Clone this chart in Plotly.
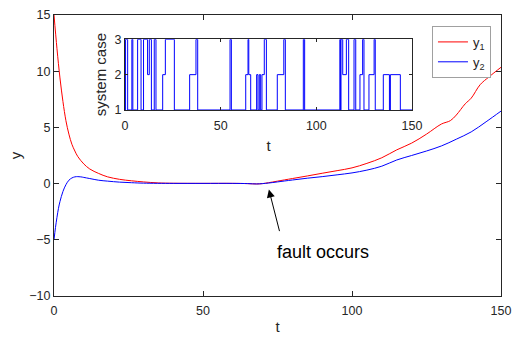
import plotly.graph_objects as go

# main response data
t1 = [0, 1, 2, 3, 4, 5, 6, 7, 8, 10, 12, 15, 18, 22, 26, 30, 35, 40, 50, 60, 65, 68, 70, 72, 75,
      80, 85, 90, 95, 100, 105, 110, 115, 120, 125, 130, 133, 135, 138, 140, 143, 146, 150]
y1 = [15, 12.0, 9.4, 7.3, 5.6, 4.4, 3.5, 2.9, 2.4, 1.75, 1.3, 0.9, 0.6, 0.38, 0.25, 0.15, 0.06, 0.03,
      0.02, 0.02, 0.0, -0.03, 0.0, 0.08, 0.22, 0.45, 0.68, 0.92, 1.15, 1.4, 1.8, 2.3, 3.0, 3.6, 4.4,
      5.3, 5.6, 6.1, 7.1, 7.6, 8.8, 9.5, 10.35]
t2 = [0, 0.5, 1, 1.5, 2, 3, 4, 5, 6, 7, 8, 9, 10, 12, 15, 18, 22, 26, 30, 40, 50, 60, 65, 68, 70,
      72, 75, 80, 85, 90, 95, 100, 105, 110, 115, 120, 125, 130, 135, 140, 145, 150]
y2 = [-5, -3.9, -3.0, -2.2, -1.6, -0.7, -0.1, 0.3, 0.5, 0.6, 0.62, 0.6, 0.55, 0.45, 0.3, 0.22, 0.13,
      0.08, 0.04, 0.02, 0.02, 0.02, 0.0, -0.03, 0.0, 0.05, 0.15, 0.32, 0.48, 0.62, 0.78, 0.95, 1.2,
      1.55, 2.1, 2.5, 2.9, 3.35, 3.95, 4.6, 5.5, 6.45]

# switching signal (system case)
sw_t = [0, 0.3, 1.4, 3.6, 4.1, 6.6, 8.4, 9.7, 11.8, 12.7, 13.8, 15.3, 16.2, 19.7, 21.1, 25.8, 33.8,
        37.1, 38.0, 54.9, 55.6, 63.1, 64.3, 64.7, 65.7, 68.8, 69.5, 70.2, 70.9, 71.6, 72.8, 73.9,
        79.6, 83.0, 83.8, 93.2, 93.9, 112.3, 112.6, 112.9, 113.8, 115.7, 116.9, 119.7, 120.6, 122.8,
        124.2, 124.9, 127.5, 130.2, 130.8, 135.0, 138.2, 138.7, 143.9, 150]
sw_v = [1, 3, 1, 3, 1, 3, 1, 3, 2, 3, 1, 3, 1, 2, 3, 1, 2,
        3, 1, 3, 1, 2, 3, 2, 1, 2, 1, 2, 1, 2, 3, 1,
        2, 3, 1, 3, 1, 3, 1, 3, 2, 3, 1, 3, 1, 2,
        3, 1, 2, 3, 1, 2, 1, 2, 1, 1]

main_xticks = [0, 50, 100, 150]
main_yticks = [-10, -5, 0, 5, 10, 15]
inset_yticks = [1, 2, 3]

axcol = '#262626'
font = 'Liberation Sans, Arial, sans-serif'

fig = go.Figure()
fig.add_trace(go.Scatter(x=t1, y=y1, mode='lines', name='y<sub>1</sub>',
                         line=dict(color='#ff0000', width=1), line_shape='spline'))
fig.add_trace(go.Scatter(x=t2, y=y2, mode='lines', name='y<sub>2</sub>',
                         line=dict(color='#0000ff', width=1), line_shape='spline'))
fig.add_trace(go.Scatter(x=sw_t, y=sw_v, mode='lines', showlegend=False,
                         line=dict(color='#0000ff', width=1, shape='hv'),
                         xaxis='x2', yaxis='y2'))

axis_common = dict(showline=True, linecolor=axcol, linewidth=1, mirror='ticks', ticks='inside',
                   tickcolor=axcol, showgrid=False, zeroline=False, automargin=False,
                   tickfont=dict(size=12.5, color=axcol, family=font))

fig.update_layout(
    width=516, height=337,
    margin=dict(l=54, r=15, t=15, b=41),
    paper_bgcolor='white', plot_bgcolor='white',
    font=dict(family=font, color=axcol),
    xaxis=dict(range=[0, 150], tickvals=main_xticks, ticklen=5, ticklabelstandoff=3,
               title=dict(text='t', font=dict(size=15), standoff=4), **axis_common),
    yaxis=dict(range=[-10, 15], tickvals=main_yticks, ticklen=5,
               title=dict(text='y', font=dict(size=15), standoff=4), **axis_common),
    xaxis2=dict(domain=[0.1588, 0.8009], anchor='y2', range=[0, 150], tickvals=main_xticks,
                ticklen=3, ticklabelstandoff=4,
                title=dict(text='t', font=dict(size=15), standoff=8), **axis_common),
    yaxis2=dict(domain=[0.662, 0.9135], anchor='x2', range=[1, 3], tickvals=inset_yticks,
                ticklen=3, title=dict(text='system case', font=dict(size=15), standoff=4),
                **axis_common),
    legend=dict(x=0.8456, y=0.961, xanchor='left', yanchor='top', bgcolor='white',
                bordercolor='#a0a0a0', borderwidth=1, itemwidth=30,
                font=dict(size=13, color=axcol)),
    showlegend=True,
)

fig.add_annotation(x=72.1, y=-0.53, ax=75.8, ay=-4.36, axref='x', ayref='y', xref='x', yref='y',
                   text='', showarrow=True, arrowhead=2, arrowsize=1.6, arrowwidth=1,
                   arrowcolor='black', standoff=0)
fig.add_annotation(x=90.3, y=-6.05, xref='x', yref='y', text='fault occurs', showarrow=False,
                   font=dict(size=18, color='black', family=font))

fig.write_html('out.html', config={'displayModeBar': False},
               post_script="document.body.style.margin='0';")
